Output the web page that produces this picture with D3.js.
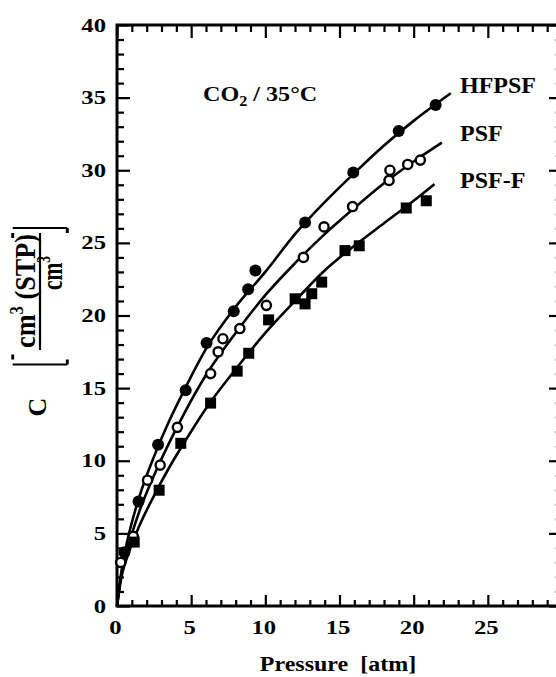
<!DOCTYPE html>
<html>
<head>
  <meta charset="utf-8">
  <title>CO2 sorption isotherms</title>
  <script src="https://d3js.org/d3.v7.min.js"></script>
  <style>
    body { margin: 0; background: #fff; }
    svg { display: block; background: #fff; }
    text { font-family: "Liberation Serif", "Times New Roman", serif; font-weight: bold; fill: #000; }
  </style>
</head>
<body>
<div id="chart"></div>

<script>
// measured points (pressure in atm, concentration in cm3(STP)/cm3)
const hfpsfP = [0.5, 1.45, 2.77, 4.63, 6.04, 7.87, 8.84, 9.33, 12.68, 15.93, 18.99, 21.48];
const hfpsfC = [3.7, 7.2, 11.1, 14.85, 18.1, 20.3, 21.8, 23.1, 26.4, 29.85, 32.7, 34.5];

const psfP = [0.25, 1.1, 2.06, 2.91, 4.07, 6.31, 6.82, 7.14, 8.28, 10.07, 12.57, 13.96, 15.88, 18.34, 18.4, 19.6, 20.45];
const psfC = [3.0, 4.8, 8.66, 9.7, 12.3, 16.0, 17.5, 18.4, 19.1, 20.7, 24.0, 26.1, 27.5, 29.3, 30.0, 30.4, 30.7];

const psffP = [1.16, 2.84, 4.3, 6.31, 8.1, 8.88, 10.22, 12.01, 12.68, 13.13, 13.8, 15.37, 16.33, 19.5, 20.85];
const psffC = [4.4, 7.97, 11.2, 13.97, 16.17, 17.4, 19.7, 21.15, 20.8, 21.5, 22.3, 24.47, 24.8, 27.4, 27.9];

// fitted curves
const hfpsfFitP = [0, 0.3, 0.7, 1.5, 2.5, 3.5, 4.5, 6, 8, 10, 12, 14, 16, 18, 20, 22.5];
const hfpsfFitC = [0, 2.4, 4.5, 7.5, 10.3, 12.7, 14.8, 17.7, 20.6, 23.0, 25.6, 27.8, 29.8, 31.7, 33.4, 35.3];

const psfFitP = [0, 0.3, 0.7, 1.5, 2.5, 3.5, 4.5, 6, 8, 10, 12, 14, 16, 18, 20, 21.9];
const psfFitC = [0, 2.2, 3.9, 6.5, 9.0, 11.2, 13.2, 15.9, 18.8, 21.4, 23.6, 25.6, 27.4, 29.1, 30.6, 31.9];

const psffFitP = [0, 0.3, 0.7, 1.5, 2.5, 3.5, 4.5, 6, 8, 10, 12, 14, 16, 18, 20, 21.4];
const psffFitC = [0, 2.0, 3.4, 5.5, 7.6, 9.5, 11.2, 13.6, 16.3, 18.8, 21.0, 23.1, 24.8, 26.35, 27.9, 29.05];

const xMajor = [0, 5, 10, 15, 20, 25, 30];
const xLabels = [0, 5, 10, 15, 20, 25];
const yMajor = [0, 5, 10, 15, 20, 25, 30, 35, 40];

const width = 556, height = 677;

const svg = d3.select("#chart").append("svg")
  .attr("width", width)
  .attr("height", height);

const x = d3.scaleLinear().domain([0, 30]).range([117, 562]);
const y = d3.scaleLinear().domain([0, 40]).range([606, 25]);

const xMinor = d3.range(0, 31).filter(v => v % 5 !== 0);
const yMinor = d3.range(0, 41).filter(v => v % 5 !== 0);

function clean(g) {
  g.select(".domain").remove();
  g.selectAll(".tick line").attr("stroke", "#000").attr("stroke-width", 2.2);
}

// bottom axis
svg.append("g").attr("transform", `translate(0,${y(0)})`)
  .call(d3.axisBottom(x).tickValues(xMinor).tickSize(-6).tickFormat(""))
  .call(clean);
const bx = svg.append("g").attr("transform", `translate(0,${y(0)})`)
  .call(d3.axisBottom(x).tickValues(xMajor).tickSize(-11).tickPadding(15)
    .tickFormat(d => xLabels.includes(d) ? d : ""))
  .call(clean);
bx.selectAll("text")
  .attr("font-size", 19)
  .attr("transform", "translate(-2,0) scale(1.3,1)");

// top axis
svg.append("g").attr("transform", `translate(0,${y(40)})`)
  .call(d3.axisTop(x).tickValues(xMinor).tickSize(-7).tickFormat(""))
  .call(clean);
svg.append("g").attr("transform", `translate(0,${y(40)})`)
  .call(d3.axisTop(x).tickValues(xMajor).tickSize(-13).tickFormat(""))
  .call(clean);

// left axis
svg.append("g").attr("transform", `translate(${x(0)},0)`)
  .call(d3.axisLeft(y).tickValues(yMinor).tickSize(-7).tickFormat(""))
  .call(clean);
const ly = svg.append("g").attr("transform", `translate(${x(0)},0)`)
  .call(d3.axisLeft(y).tickValues(yMajor).tickSize(-13).tickPadding(11))
  .call(clean);
ly.selectAll("text")
  .attr("font-size", 19)
  .attr("x", -11 / 1.3)
  .attr("transform", "scale(1.3,1)");

// right axis (cut by the frame edge)
svg.append("g").attr("transform", `translate(${x(30)},0)`)
  .call(d3.axisRight(y).tickValues(yMinor).tickSize(-7).tickFormat(""))
  .call(clean)
  .selectAll(".tick line").attr("stroke", "#bbb");
svg.append("g").attr("transform", `translate(${x(30)},0)`)
  .call(d3.axisRight(y).tickValues(yMajor).tickSize(-13).tickFormat(""))
  .call(clean);

// frame
svg.append("path")
  .attr("d", `M${x(30)},${y(40)}H${x(0)}V${y(0)}H${x(30)}`)
  .attr("fill", "none")
  .attr("stroke", "#000")
  .attr("stroke-width", 3);

// curves
const line = d3.line()
  .x(d => x(d[0]))
  .y(d => y(d[1]))
  .curve(d3.curveMonotoneX);

[[hfpsfFitP, hfpsfFitC], [psfFitP, psfFitC], [psffFitP, psffFitC]].forEach(([p, c]) => {
  svg.append("path")
    .datum(p.map((v, i) => [v, c[i]]))
    .attr("d", line)
    .attr("fill", "none")
    .attr("stroke", "#000")
    .attr("stroke-width", 2.6);
});

// markers
svg.append("g").selectAll("circle")
  .data(hfpsfP.map((v, i) => [v, hfpsfC[i]]))
  .join("circle")
    .attr("cx", d => x(d[0]))
    .attr("cy", d => y(d[1]))
    .attr("r", 6)
    .attr("fill", "#000");

svg.append("g").selectAll("circle")
  .data(psfP.map((v, i) => [v, psfC[i]]))
  .join("circle")
    .attr("cx", d => x(d[0]))
    .attr("cy", d => y(d[1]))
    .attr("r", 4.6)
    .attr("fill", "#fff")
    .attr("stroke", "#000")
    .attr("stroke-width", 2.4);

svg.append("g").selectAll("rect")
  .data(psffP.map((v, i) => [v, psffC[i]]))
  .join("rect")
    .attr("x", d => x(d[0]) - 5.5)
    .attr("y", d => y(d[1]) - 5.5)
    .attr("width", 11)
    .attr("height", 11)
    .attr("fill", "#000");

// series labels
svg.append("text").attr("x", 460).attr("y", 93).attr("font-size", 24).text("HFPSF");
svg.append("text").attr("x", 460).attr("y", 141).attr("font-size", 24).text("PSF");
svg.append("text").attr("x", 460).attr("y", 188).attr("font-size", 24).text("PSF-F");

// gas / temperature note
const note = svg.append("text")
  .attr("transform", "translate(203,101) scale(1.15,1)")
  .attr("font-size", 21);
note.append("tspan").text("CO");
note.append("tspan").attr("font-size", 14).attr("dy", 5).text("2");
note.append("tspan").attr("dy", -5).text("\u00a0/ 35°C");

// x title
svg.append("text")
  .attr("transform", "translate(338,671) scale(1.2,1)")
  .attr("text-anchor", "middle")
  .attr("font-size", 20)
  .text("Pressure\u00a0 [atm]");

// y title: C [cm3(STP)/cm3]
svg.append("text")
  .attr("transform", "translate(46,407) rotate(-90)")
  .attr("text-anchor", "middle")
  .attr("font-size", 26)
  .text("C");

const frac = svg.append("g").attr("transform", "translate(40,291) scale(1.3,1) rotate(-90)");
const num = frac.append("text")
  .attr("text-anchor", "middle").attr("y", -4).attr("font-size", 22)
  .attr("textLength", 114).attr("lengthAdjust", "spacingAndGlyphs");
num.append("tspan").text("cm");
num.append("tspan").attr("font-size", 14).attr("dy", -9).text("3");
num.append("tspan").attr("dy", 9).text("\u00a0(STP)");
frac.append("line")
  .attr("x1", -59).attr("x2", 58)
  .attr("stroke", "#000").attr("stroke-width", 1.7);
const den = frac.append("text")
  .attr("text-anchor", "middle").attr("x", 18).attr("y", 17).attr("font-size", 22)
  .attr("textLength", 34).attr("lengthAdjust", "spacingAndGlyphs");
den.append("tspan").text("cm");
den.append("tspan").attr("font-size", 14).attr("dy", -9).text("3");
frac.append("path")
  .attr("d", "M-68.5,-21h5M-73.5,-21V21M-73.5,21h5M58,-21h-5M63,-21V21M63,21h-5")
  .attr("fill", "none").attr("stroke", "#000").attr("stroke-width", 2.2);
</script>
</body>
</html>
